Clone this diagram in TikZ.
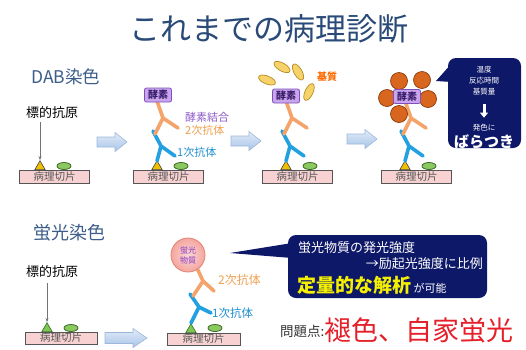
\documentclass[tikz,border=0pt]{standalone}
\usepackage{fontspec}
\newfontfamily\jp{Noto Sans CJK JP}
\usetikzlibrary{shapes.geometric,arrows.meta}

\definecolor{titleblue}{HTML}{2A4A78}
\definecolor{headblue}{HTML}{3D5E8A}
\definecolor{slidefill}{HTML}{F8D2D2}
\definecolor{slideline}{HTML}{555555}
\definecolor{antigenY}{HTML}{F0C000}
\definecolor{antigenG}{HTML}{7CC850}
\definecolor{cellfill}{HTML}{8CC860}
\definecolor{cellline}{HTML}{3A6A28}
\definecolor{abblue}{HTML}{22A0E0}
\definecolor{aborange}{HTML}{F4A46A}
\definecolor{enzfill}{HTML}{C9A6EC}
\definecolor{enzline}{HTML}{7F4FBF}
\definecolor{enztext}{HTML}{3C1E6E}
\definecolor{subfill}{HTML}{F6D36A}
\definecolor{subline}{HTML}{B88A1E}
\definecolor{dabfill}{HTML}{D8661F}
\definecolor{dabline}{HTML}{8A3A0A}
\definecolor{navy}{HTML}{0E1868}
\definecolor{navylight}{HTML}{1C2A8A}
\definecolor{arrowlight}{HTML}{E2ECF8}
\definecolor{arrowdark}{HTML}{A8C4E8}
\definecolor{arrowline}{HTML}{9DB8DC}
\definecolor{fluofill}{HTML}{F4A6A0}
\definecolor{fluoline}{HTML}{E48070}
\definecolor{fluotext}{HTML}{8A3CC8}
\definecolor{problemred}{HTML}{E5202A}
\definecolor{labelpurple}{HTML}{8E5CC8}
\definecolor{labelorange}{HTML}{F0A050}
\definecolor{labelblue}{HTML}{1E90D0}
\definecolor{calloutyellow}{HTML}{F4F000}

\tikzset{
  slidebox/.style={draw=slideline, line width=0.8pt, fill=slidefill,
    minimum width=70pt, minimum height=13pt, inner sep=0pt,
    font=\jp\fontsize{10.5}{11}\selectfont, text=slideline},
  enzymebox/.style={draw=enzline, line width=0.8pt, fill=enzfill, rounded corners=2pt,
    minimum width=27pt, minimum height=14pt, inner sep=0pt,
    font=\jp\bfseries\fontsize{10}{11}\selectfont, text=enztext},
  antigentri/.style={regular polygon, regular polygon sides=3, draw=black!75,
    line width=0.6pt, minimum size=12pt, inner sep=0pt},
  cell/.style={ellipse, draw=cellline, line width=0.8pt, fill=cellfill,
    minimum width=14pt, minimum height=7pt, inner sep=0pt},
  abline/.style={line width=3.6pt, line cap=round, line join=round},
  smalllabel/.style={font=\jp\fontsize{11}{12}\selectfont, inner sep=0pt},
  pointerline/.style={draw=black!55, line width=0.6pt, -{Stealth[length=4pt,width=3pt]}},
  substrate/.style={draw=subline, line width=0.7pt, fill=subfill},
  dabdot/.style={circle, draw=dabline, line width=0.7pt, fill=dabfill,
    minimum size=17pt, inner sep=0pt},
  calloutfill/.style={fill=navy},
  callouttext/.style={text=white, inner sep=0pt},
}

% light blue block arrow: left x, centre y, length, head length, head half-height, shaft half-height
\newcommand\blockarr[6]{%
  \draw[arrowline, line width=0.6pt, top color=arrowlight, bottom color=arrowdark]
    (#1,#2-#6) -- (#1+#3-#4,#2-#6) -- (#1+#3-#4,#2-#5) -- (#1+#3,#2)
    -- (#1+#3-#4,#2+#5) -- (#1+#3-#4,#2+#6) -- (#1,#2+#6) -- cycle;}

% Y-shaped antibody: colour, base, junction, arm one, arm two
\newcommand\antibody[5]{%
  \draw[abline, #1] #2 -- #3 -- #4 #3 -- #5;}

\begin{document}
\begin{tikzpicture}[x=1pt,y=-1pt]
\useasboundingbox (0,0) rectangle (526,349);
\fill[white] (0,0) rectangle (526,349);

% ---------- title ----------
\node[text=titleblue, font=\jp\fontsize{31}{34}\selectfont, inner sep=0pt] (title) at (269,29) {これまでの病理診断};

% ---------- DAB staining row ----------
\node[text=headblue, font=\jp\fontsize{17.5}{19}\selectfont, anchor=west, inner sep=0pt] (dabhead) at (31,77) {DAB染色};

% panel 1: bare antigen
\node[slidebox] (slide1) at (54.5,176.5) {病理切片};
\node[antigentri, fill=antigenY, anchor=south] (ag1) at (40,170) {};
\node[cell] (cell1) at (64,166) {};
\node[font=\jp\fontsize{13}{14}\selectfont, inner sep=0pt] (target1) at (52,113) {標的抗原};
\draw[pointerline] (40,122) -- (ag1.north);

\blockarr{97}{142}{30}{12}{9.5}{5}

% panel 2: primary + enzyme-linked secondary antibody
\node[slidebox] (slide2) at (168.5,176.5) {病理切片};
\node[antigentri, fill=antigenY, anchor=south] (ag2) at (157,170) {};
\node[cell] (cell2) at (181,166) {};
\antibody{abblue}{(157,161)}{(161,146)}{(153,131)}{(175,156)}
\antibody{aborange}{(155,134)}{(163,118)}{(157,101)}{(178,128)}
\node[enzymebox] (enz2) at (158,95) {酵素};
\node[smalllabel, text=labelpurple, anchor=west] (lab2a) at (185,117) {酵素結合};
\node[smalllabel, text=labelorange, anchor=west] (lab2b) at (185,130) {2次抗体};
\node[smalllabel, text=labelblue, anchor=west] (lab2c) at (177,152) {1次抗体};

\blockarr{231}{141}{30}{12}{9.5}{5}

% panel 3: substrate added
\begin{scope}[xshift=129pt]
\node[slidebox] (slide3) at (168.5,176.5) {病理切片};
\node[antigentri, fill=antigenY, anchor=south] (ag3) at (157,170) {};
\node[cell] (cell3) at (181,166) {};
\antibody{abblue}{(157,161)}{(161,146)}{(153,131)}{(175,156)}
\antibody{aborange}{(155,134)}{(163,118)}{(157,101)}{(178,128)}
\node[enzymebox] (enz3) at (157,96) {酵素};
\end{scope}
\draw[substrate, rotate around={-30:(282,67)}] (282,67) ellipse (9 and 4);
\draw[substrate, rotate around={-60:(298,72)}] (298,72) ellipse (9 and 4);
\draw[substrate, rotate around={-22:(267,80)}] (267,80) ellipse (9 and 4);
\draw[substrate, rotate around={65:(309,92)}] (309,92) ellipse (9 and 4);
\node[text=orange!85!red, font=\jp\bfseries\fontsize{10}{11}\selectfont, inner sep=0pt] (sublabel) at (327,77) {基質};

\blockarr{347}{139}{30}{12}{9.5}{5}

% panel 4: coloured product deposited
\begin{scope}[xshift=248pt]
\node[slidebox] (slide4) at (168.5,176.5) {病理切片};
\node[antigentri, fill=antigenY, anchor=south] (ag4) at (157,170) {};
\node[cell] (cell4) at (181,166) {};
\antibody{abblue}{(157,161)}{(161,146)}{(153,131)}{(175,156)}
\antibody{aborange}{(155,134)}{(163,118)}{(157,101)}{(178,128)}
\end{scope}
\node[dabdot] (dot1) at (399,81) {};
\node[dabdot] (dot2) at (422,80) {};
\node[dabdot] (dot3) at (387,98) {};
\node[dabdot] (dot4) at (428,99) {};
\node[dabdot] (dot5) at (399,114) {};
\node[enzymebox] (enz4) at (407,96.5) {酵素};

% callout: variability of colour development
\fill[calloutfill] (452,63) -- (436,81) -- (452,82) -- cycle;
\fill[calloutfill, rounded corners=8pt] (448,58) rectangle (521,148);
\node[callouttext, font=\jp\fontsize{7.5}{8}\selectfont] (c1a) at (484,70) {温度};
\node[callouttext, font=\jp\fontsize{7.5}{8}\selectfont] (c1b) at (484,81) {反応時間};
\node[callouttext, font=\jp\fontsize{7.5}{8}\selectfont] (c1c) at (484,92) {基質量};
\draw[white, line width=3pt, -{Triangle[length=5pt,width=8pt]}] (c1c.south) ++(0,8) -- ++(0,14);
\node[callouttext, font=\jp\fontsize{7.5}{8}\selectfont] (c1d) at (484,128) {発色に};
\node[callouttext, font=\jp\bfseries\fontsize{15}{16}\selectfont] (c1e) at (484,142) {ばらつき};

% ---------- fluorescence staining row ----------
\node[text=headblue, font=\jp\fontsize{18}{19}\selectfont, anchor=west, inner sep=0pt] (fluohead) at (33,233) {蛍光染色};

\node[slidebox, minimum width=72pt, minimum height=12pt] (slide5) at (61,338) {病理切片};
\node[antigentri, fill=antigenG, draw=cellline, anchor=south] (ag5) at (47,332) {};
\node[cell] (cell5) at (71,328) {};
\node[font=\jp\fontsize{13}{14}\selectfont, inner sep=0pt] (target2) at (52,272) {標的抗原};
\draw[pointerline] (47,283) -- (ag5.north);

\blockarr{105}{338}{42}{14}{9.5}{5.5}

\node[slidebox, minimum width=73pt, minimum height=12pt] (slide6) at (203.5,339) {病理切片};
\node[antigentri, fill=antigenG, draw=cellline, anchor=south] (ag6) at (191,333) {};
\node[cell] (cell6) at (215,328) {};
\antibody{abblue}{(191,323)}{(199,307)}{(190,294)}{(211,313)}
\antibody{aborange}{(193,296)}{(203,281)}{(197,268)}{(214,291)}
\node[circle, draw=fluoline, line width=0.8pt, inner color=fluofill!45, outer color=fluofill,
  minimum size=34pt, inner sep=0pt, text=fluotext, align=center,
  font=\jp\fontsize{8}{10}\selectfont] (fluo) at (188,255) {蛍光\\物質};
\node[smalllabel, text=labelorange, anchor=west, font=\jp\fontsize{12}{13}\selectfont] (lab6b) at (218,280) {2次抗体};
\node[smalllabel, text=labelblue, anchor=west, font=\jp\fontsize{11.5}{12}\selectfont] (lab6c) at (212,313) {1次抗体};

% callout: quantitative analysis
\fill[calloutfill] (230,253) -- (292,243) -- (292,258) -- cycle;
\fill[calloutfill, rounded corners=8pt] (288,235) rectangle (487,298);
\node[callouttext, anchor=west, font=\jp\fontsize{13}{14}\selectfont] (c2a) at (298,248) {蛍光物質の発光強度};
\node[callouttext, anchor=east, font=\jp\fontsize{13}{14}\selectfont] (c2b) at (483,264) {→励起光強度に比例};
\node[anchor=west, inner sep=0pt, text=calloutyellow, font=\jp\bfseries\fontsize{19}{20}\selectfont] (c2c) at (297,285) {定量的な解析};
\node[callouttext, anchor=base west, font=\jp\fontsize{11}{12}\selectfont] (c2d) at ([xshift=2pt]c2c.base east) {が可能};

% problems
\node[anchor=west, inner sep=0pt, text=black!80, font=\jp\fontsize{13.5}{14}\selectfont] (prob) at (280,331) {問題点:};
\node[anchor=west, inner sep=0pt, text=problemred, font=\jp\fontsize{27}{28}\selectfont] (probtext) at (324,330) {褪色、自家蛍光};
\end{tikzpicture}
\end{document}
